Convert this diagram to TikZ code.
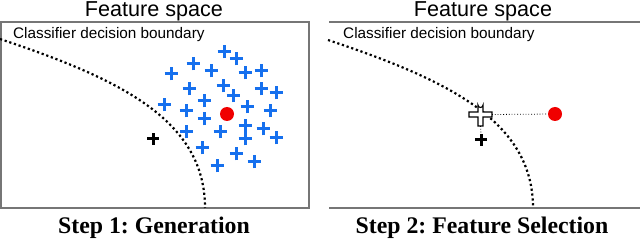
\documentclass[tikz,border=0pt]{standalone}
\usepackage{fontspec}
\setmainfont{Liberation Serif}
\newfontfamily\arialf{Liberation Sans}
\frenchspacing
\definecolor{plusblue}{RGB}{22,112,238}
\definecolor{boxgray}{RGB}{118,118,118}
\definecolor{dotred}{RGB}{240,0,0}
\begin{document}
\begin{tikzpicture}[x=1pt,y=-1pt,
  boxline/.style={draw=boxgray,line width=1.6pt},
  boundary/.style={line width=2.2pt,dash pattern=on 2.2pt off 2.7pt},
  bluep/.style={draw=plusblue,line width=3pt},
  blackp/.style={draw=black,line width=3pt},
  reddot/.style={circle,fill=dotred,inner sep=0pt,minimum size=14pt},
  titletext/.style={inner sep=0pt,anchor=base,text height=15pt,text depth=4pt,font=\arialf\fontsize{21.6}{24}\selectfont},
  labeltext/.style={inner sep=0pt,anchor=west,font=\arialf\fontsize{15.3}{17}\selectfont},
  steptext/.style={inner sep=0pt,font=\bfseries\fontsize{23.8}{26}\selectfont},
  linkline/.style={line width=0.8pt,dotted},
  hollowp/.style={draw=black,fill=white,line width=1.1pt}]
\useasboundingbox (0,0) rectangle (640,240);
% frames
\draw[boxline] (0.8,22) rectangle (309,208);
\draw[boxline] (329,22) -- (640,22);
\draw[boxline] (329,208) -- (640,208);
% texts
\node[titletext] (t1) at (154,17) {Feature space};
\node[titletext] (t2) at (483,17) {Feature space};
\node[labeltext] (l1) at (13,35) {Classifier decision boundary};
\node[labeltext] (l2) at (343,35) {Classifier decision boundary};
\node[steptext] (s1) at (154,228) {Step 1: Generation};
\node[steptext] (s2) at (482,228) {Step 2: Feature Selection};
% boundaries
\draw[boundary] (0,39) .. controls (120,79) and (205,120) .. (205,208);
\draw[boundary] (328,40) .. controls (448,80) and (533,121) .. (533,208);
% blue pluses
\foreach \x/\y [count=\i] in {224/52,236/59,193/64,211/71,171/74,245/73,261/71,
  189/89,223/86,233/96,261/89,276/93,164/105,204/101,186/111,247/107,270/111,
  204/119,186/132,220/132,245/126,245/139,263/129,276/138,202/148,236/154,254/162,217/166}{
  \coordinate (b\i) at (\x,\y);
  \draw[bluep] ([xshift=-6.5pt]b\i) -- ([xshift=6.5pt]b\i)
               ([yshift=-6.5pt]b\i) -- ([yshift=6.5pt]b\i);
}
% red dots
\node[reddot] (r1) at (227,114) {};
\node[reddot] (r2) at (555,114) {};
% black pluses
\coordinate (k1) at (153,139);
\draw[blackp] ([xshift=-6pt]k1) -- ([xshift=6pt]k1) ([yshift=-6pt]k1) -- ([yshift=6pt]k1);
\coordinate (k2) at (481,140);
\draw[blackp] ([xshift=-6pt]k2) -- ([xshift=6pt]k2) ([yshift=-6pt]k2) -- ([yshift=6pt]k2);
% hollow plus (moved sample)
\coordinate (hc) at (480.5,114.5);
\coordinate (hcR) at (492,114.5);
\coordinate (hcB) at (480.5,126);
\draw[hollowp]
  (478,105) arc (180:0:2.5) -- (483,112) -- (492,112) -- (492,117) -- (483,117)
  -- (483,126) -- (478,126) -- (478,117) -- (469,117) -- (469,112) -- (478,112) -- cycle;
\draw[linkline] (hcR) -- (r2);
\draw[linkline] (hcB) -- ([yshift=6pt]k2);
\end{tikzpicture}
\end{document}
